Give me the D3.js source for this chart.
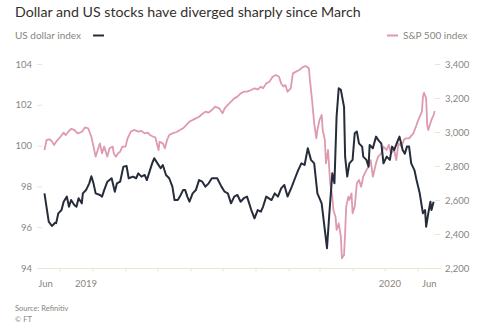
<!DOCTYPE html>
<html>
<head>
<meta charset="utf-8">
<script src="https://cdn.jsdelivr.net/npm/d3@7"></script>
<style>
  body { margin: 0; background: #fff; }
  svg { display: block; font-family: Lato, "Open Sans", sans-serif; }
</style>
</head>
<body>
<script>

// US dollar index (left axis)
var dollarIndex = [
    ["2019-06-17", 97.66], ["2019-06-21", 96.27], ["2019-06-24", 96.06], ["2019-06-27", 96.22],
    ["2019-06-28", 96.2], ["2019-06-30", 96.68], ["2019-07-03", 96.84], ["2019-07-05", 97.25],
    ["2019-07-08", 97.5], ["2019-07-10", 97.0], ["2019-07-12", 97.33], ["2019-07-15", 97.09],
    ["2019-07-17", 97.0], ["2019-07-19", 97.42], ["2019-07-22", 97.17], ["2019-07-23", 97.66],
    ["2019-07-26", 97.82], ["2019-07-29", 98.15], ["2019-07-31", 98.5], ["2019-08-02", 98.15],
    ["2019-08-04", 97.66], ["2019-08-08", 97.58], ["2019-08-10", 97.5], ["2019-08-12", 97.82],
    ["2019-08-15", 98.23], ["2019-08-19", 98.4], ["2019-08-22", 97.74], ["2019-08-24", 98.15],
    ["2019-08-27", 98.23], ["2019-08-30", 98.97], ["2019-09-02", 99.0], ["2019-09-04", 98.4],
    ["2019-09-08", 98.48], ["2019-09-11", 98.4], ["2019-09-13", 98.64], ["2019-09-16", 98.48],
    ["2019-09-19", 98.56], ["2019-09-21", 98.31], ["2019-09-24", 98.8], ["2019-09-26", 99.13],
    ["2019-09-28", 99.38], ["2019-10-01", 99.13], ["2019-10-04", 98.89], ["2019-10-06", 99.05],
    ["2019-10-09", 98.56], ["2019-10-12", 98.4], ["2019-10-15", 97.99], ["2019-10-17", 97.33],
    ["2019-10-20", 97.33], ["2019-10-22", 97.5], ["2019-10-25", 97.82], ["2019-10-27", 97.82],
    ["2019-10-29", 97.5], ["2019-10-31", 97.25], ["2019-11-03", 97.66], ["2019-11-06", 97.82],
    ["2019-11-09", 98.31], ["2019-11-12", 98.23], ["2019-11-15", 97.99], ["2019-11-18", 98.15],
    ["2019-11-21", 98.4], ["2019-11-26", 98.4], ["2019-11-30", 97.99], ["2019-12-03", 97.74],
    ["2019-12-06", 97.66], ["2019-12-09", 97.17], ["2019-12-12", 97.5], ["2019-12-15", 97.58],
    ["2019-12-18", 97.25], ["2019-12-21", 97.42], ["2019-12-24", 97.5], ["2019-12-28", 96.84],
    ["2019-12-31", 96.43], ["2020-01-03", 96.84], ["2020-01-06", 96.76], ["2020-01-08", 97.0],
    ["2020-01-11", 97.5], ["2020-01-16", 97.33], ["2020-01-19", 97.66], ["2020-01-22", 97.5],
    ["2020-01-25", 97.9], ["2020-01-28", 98.07], ["2020-01-31", 97.5], ["2020-02-04", 97.99],
    ["2020-02-07", 98.4], ["2020-02-10", 98.8], ["2020-02-13", 99.13], ["2020-02-16", 99.05],
    ["2020-02-19", 99.87], ["2020-02-22", 99.3], ["2020-02-25", 99.13], ["2020-02-28", 97.66],
    ["2020-03-03", 97.17], ["2020-03-06", 95.86], ["2020-03-08", 94.97], ["2020-03-10", 96.52],
    ["2020-03-13", 98.64], ["2020-03-15", 98.15], ["2020-03-17", 101.42], ["2020-03-19", 102.81],
    ["2020-03-21", 102.73], ["2020-03-24", 101.9], ["2020-03-25", 99.46], ["2020-03-27", 98.48],
    ["2020-03-29", 99.13], ["2020-04-01", 99.3], ["2020-04-03", 100.6], ["2020-04-05", 100.69],
    ["2020-04-07", 100.11], ["2020-04-10", 99.95], ["2020-04-11", 99.46], ["2020-04-14", 99.3],
    ["2020-04-16", 98.97], ["2020-04-17", 100.03], ["2020-04-20", 99.87], ["2020-04-23", 100.44],
    ["2020-04-25", 100.28], ["2020-04-28", 100.1], ["2020-04-30", 99.13], ["2020-05-03", 99.46],
    ["2020-05-06", 99.3], ["2020-05-08", 99.95], ["2020-05-10", 99.78], ["2020-05-13", 100.19],
    ["2020-05-15", 100.44], ["2020-05-18", 99.78], ["2020-05-20", 99.6], ["2020-05-22", 99.95],
    ["2020-05-24", 99.95], ["2020-05-26", 99.13], ["2020-05-29", 98.8], ["2020-05-31", 98.31],
    ["2020-06-03", 97.66], ["2020-06-05", 97.0], ["2020-06-06", 96.68], ["2020-06-08", 96.84],
    ["2020-06-09", 96.02], ["2020-06-11", 96.68], ["2020-06-13", 97.25], ["2020-06-14", 96.84],
    ["2020-06-16", 97.25]
];

// S&P 500 index (right axis)
var spIndex = [
    ["2019-06-17", 2894], ["2019-06-19", 2953], ["2019-06-22", 2957], ["2019-06-24", 2945],
    ["2019-06-26", 2924], ["2019-06-28", 2943], ["2019-07-02", 2972], ["2019-07-05", 2996],
    ["2019-07-07", 2982], ["2019-07-10", 3006], ["2019-07-12", 3018], ["2019-07-15", 3012],
    ["2019-07-18", 2992], ["2019-07-22", 3000], ["2019-07-25", 3027], ["2019-07-28", 3022],
    ["2019-07-31", 2972], ["2019-08-02", 2914], ["2019-08-04", 2855], ["2019-08-06", 2894],
    ["2019-08-08", 2933], ["2019-08-10", 2875], ["2019-08-12", 2914], ["2019-08-15", 2855],
    ["2019-08-17", 2904], ["2019-08-20", 2914], ["2019-08-21", 2875], ["2019-08-23", 2855],
    ["2019-08-25", 2875], ["2019-08-27", 2884], ["2019-08-29", 2914], ["2019-09-01", 2914],
    ["2019-09-03", 2963], ["2019-09-06", 3002], ["2019-09-09", 3012], ["2019-09-13", 3002],
    ["2019-09-16", 3006], ["2019-09-19", 2992], ["2019-09-22", 2996], ["2019-09-24", 2982],
    ["2019-09-27", 2972], ["2019-09-29", 2968], ["2019-10-02", 2894], ["2019-10-03", 2943],
    ["2019-10-06", 2933], ["2019-10-08", 2904], ["2019-10-10", 2953], ["2019-10-12", 2982],
    ["2019-10-15", 2992], ["2019-10-19", 3000], ["2019-10-22", 3012], ["2019-10-25", 3022],
    ["2019-10-28", 3041], ["2019-10-31", 3061], ["2019-11-03", 3071], ["2019-11-06", 3080],
    ["2019-11-09", 3090], ["2019-11-12", 3106], ["2019-11-15", 3120], ["2019-11-18", 3114],
    ["2019-11-21", 3129], ["2019-11-24", 3149], ["2019-11-28", 3139], ["2019-12-01", 3110],
    ["2019-12-03", 3139], ["2019-12-06", 3159], ["2019-12-09", 3178], ["2019-12-12", 3198],
    ["2019-12-15", 3208], ["2019-12-18", 3227], ["2019-12-21", 3237], ["2019-12-24", 3237],
    ["2019-12-28", 3247], ["2019-12-31", 3257], ["2020-01-03", 3250], ["2020-01-06", 3267],
    ["2020-01-08", 3257], ["2020-01-11", 3286], ["2020-01-14", 3296], ["2020-01-17", 3325],
    ["2020-01-20", 3335], ["2020-01-23", 3325], ["2020-01-25", 3286], ["2020-01-27", 3267],
    ["2020-01-29", 3276], ["2020-01-31", 3237], ["2020-02-03", 3257], ["2020-02-05", 3345],
    ["2020-02-08", 3355], ["2020-02-11", 3365], ["2020-02-14", 3380], ["2020-02-17", 3388],
    ["2020-02-20", 3375], ["2020-02-21", 3306], ["2020-02-23", 3188], ["2020-02-25", 3051],
    ["2020-02-27", 2963], ["2020-02-28", 3012], ["2020-03-01", 3071], ["2020-03-03", 3100],
    ["2020-03-04", 3012], ["2020-03-06", 2953], ["2020-03-07", 2816], ["2020-03-09", 2894],
    ["2020-03-11", 2698], ["2020-03-13", 2620], ["2020-03-14", 2541], ["2020-03-16", 2502],
    ["2020-03-17", 2424], ["2020-03-19", 2463], ["2020-03-21", 2384], ["2020-03-22", 2257],
    ["2020-03-24", 2276], ["2020-03-25", 2404], ["2020-03-26", 2561], ["2020-03-28", 2620],
    ["2020-03-29", 2600], ["2020-03-31", 2639], ["2020-04-01", 2522], ["2020-04-03", 2561],
    ["2020-04-05", 2698], ["2020-04-07", 2718], ["2020-04-09", 2678], ["2020-04-11", 2737],
    ["2020-04-14", 2776], ["2020-04-16", 2796], ["2020-04-18", 2835], ["2020-04-20", 2737],
    ["2020-04-23", 2816], ["2020-04-25", 2855], ["2020-04-28", 2875], ["2020-04-30", 2914],
    ["2020-05-03", 2894], ["2020-05-05", 2924], ["2020-05-07", 2875], ["2020-05-10", 2894],
    ["2020-05-12", 2835], ["2020-05-14", 2933], ["2020-05-17", 2914], ["2020-05-19", 2953],
    ["2020-05-21", 2963], ["2020-05-24", 2963], ["2020-05-28", 2992], ["2020-05-31", 3041],
    ["2020-06-01", 3061], ["2020-06-03", 3090], ["2020-06-05", 3120], ["2020-06-06", 3208],
    ["2020-06-07", 3231], ["2020-06-09", 3198], ["2020-06-10", 3041], ["2020-06-11", 3012],
    ["2020-06-13", 3051], ["2020-06-14", 3071], ["2020-06-16", 3100], ["2020-06-17", 3123]
];

var leftTicks = [94, 96, 98, 100, 102, 104];
var rightTicks = [2200, 2400, 2600, 2800, 3000, 3200, 3400];
var xLabels = [["2019-06-18", "Jun"], ["2019-07-26", "2019"], ["2020-05-06", "2020"], ["2020-06-12", "Jun"]];

var width = 500, height = 328;
var parse = d3.timeParse("%Y-%m-%d");
var dollarCol = "#262c3a", spCol = "#de9aae", grey = "#8a8580", rule = "#ece4d6";

var svg = d3.select("body").append("svg")
    .attr("width", width)
    .attr("height", height);

var x = d3.scaleTime()
    .domain([parse("2019-06-10"), parse("2020-06-22")])
    .range([37, 440]);
var yL = d3.scaleLinear().domain([94, 104]).range([268, 64]);
var yR = d3.scaleLinear().domain([2200, 3400]).range([268, 64]);

// titles and legend
svg.append("text")
    .attr("x", 15).attr("y", 17)
    .style("font-size", "14.2px")
    .style("fill", "#33302e")
    .text("Dollar and US stocks have diverged sharply since March");

svg.append("text")
    .attr("x", 15).attr("y", 39)
    .style("font-size", "10px")
    .style("fill", grey)
    .text("US dollar index");
svg.append("line")
    .attr("x1", 93).attr("x2", 104).attr("y1", 35.5).attr("y2", 35.5)
    .style("stroke", dollarCol).style("stroke-width", 2);

svg.append("line")
    .attr("x1", 387).attr("x2", 398).attr("y1", 35.5).attr("y2", 35.5)
    .style("stroke", spCol).style("stroke-width", 2);
svg.append("text")
    .attr("x", 403).attr("y", 39)
    .style("font-size", "10px")
    .style("fill", grey)
    .text("S&P 500 index");

// axes
function styleAxis(g) {
    g.select(".domain").remove();
    g.selectAll(".tick line").style("stroke", rule);
    g.selectAll(".tick text")
        .style("font-family", "Lato, 'Open Sans', sans-serif")
        .style("font-size", "9.5px")
        .style("fill", grey);
}

svg.append("g")
    .attr("transform", "translate(37,0)")
    .call(d3.axisLeft(yL).tickValues(leftTicks).tickSize(-5).tickPadding(5))
    .call(styleAxis);

svg.append("g")
    .attr("transform", "translate(440,0)")
    .call(d3.axisRight(yR).tickValues(rightTicks).tickSize(-5).tickPadding(5)
        .tickFormat(d3.format(",")))
    .call(styleAxis);

svg.append("line")
    .attr("x1", 37).attr("x2", 441)
    .attr("y1", 268.5).attr("y2", 268.5)
    .style("stroke", rule);

svg.append("g")
    .attr("transform", "translate(0,268.5)")
    .call(d3.axisBottom(x).ticks(d3.timeMonth.every(1)).tickSize(3).tickFormat(""))
    .call(styleAxis);

svg.append("g").selectAll("text")
    .data(xLabels)
    .join("text")
    .attr("x", function(d) { return x(parse(d[0])); })
    .attr("y", 287)
    .attr("text-anchor", "middle")
    .style("font-size", "9.5px")
    .style("fill", grey)
    .text(function(d) { return d[1]; });

// series
var spLine = d3.line()
    .x(function(d) { return x(parse(d[0])); })
    .y(function(d) { return yR(d[1]); });
var dollarLine = d3.line()
    .x(function(d) { return x(parse(d[0])); })
    .y(function(d) { return yL(d[1]); });

svg.append("path")
    .datum(spIndex)
    .attr("d", spLine)
    .style("fill", "none")
    .style("stroke", spCol)
    .style("stroke-width", 1.8)
    .style("stroke-linejoin", "round");

svg.append("path")
    .datum(dollarIndex)
    .attr("d", dollarLine)
    .style("fill", "none")
    .style("stroke", dollarCol)
    .style("stroke-width", 2)
    .style("stroke-linejoin", "round");

// footer
svg.append("text")
    .attr("x", 15).attr("y", 311)
    .style("font-size", "7.5px")
    .style("fill", grey)
    .text("Source: Refinitiv");
svg.append("text")
    .attr("x", 15).attr("y", 322)
    .style("font-size", "7.5px")
    .style("fill", grey)
    .text("© FT");

</script>
</body>
</html>
